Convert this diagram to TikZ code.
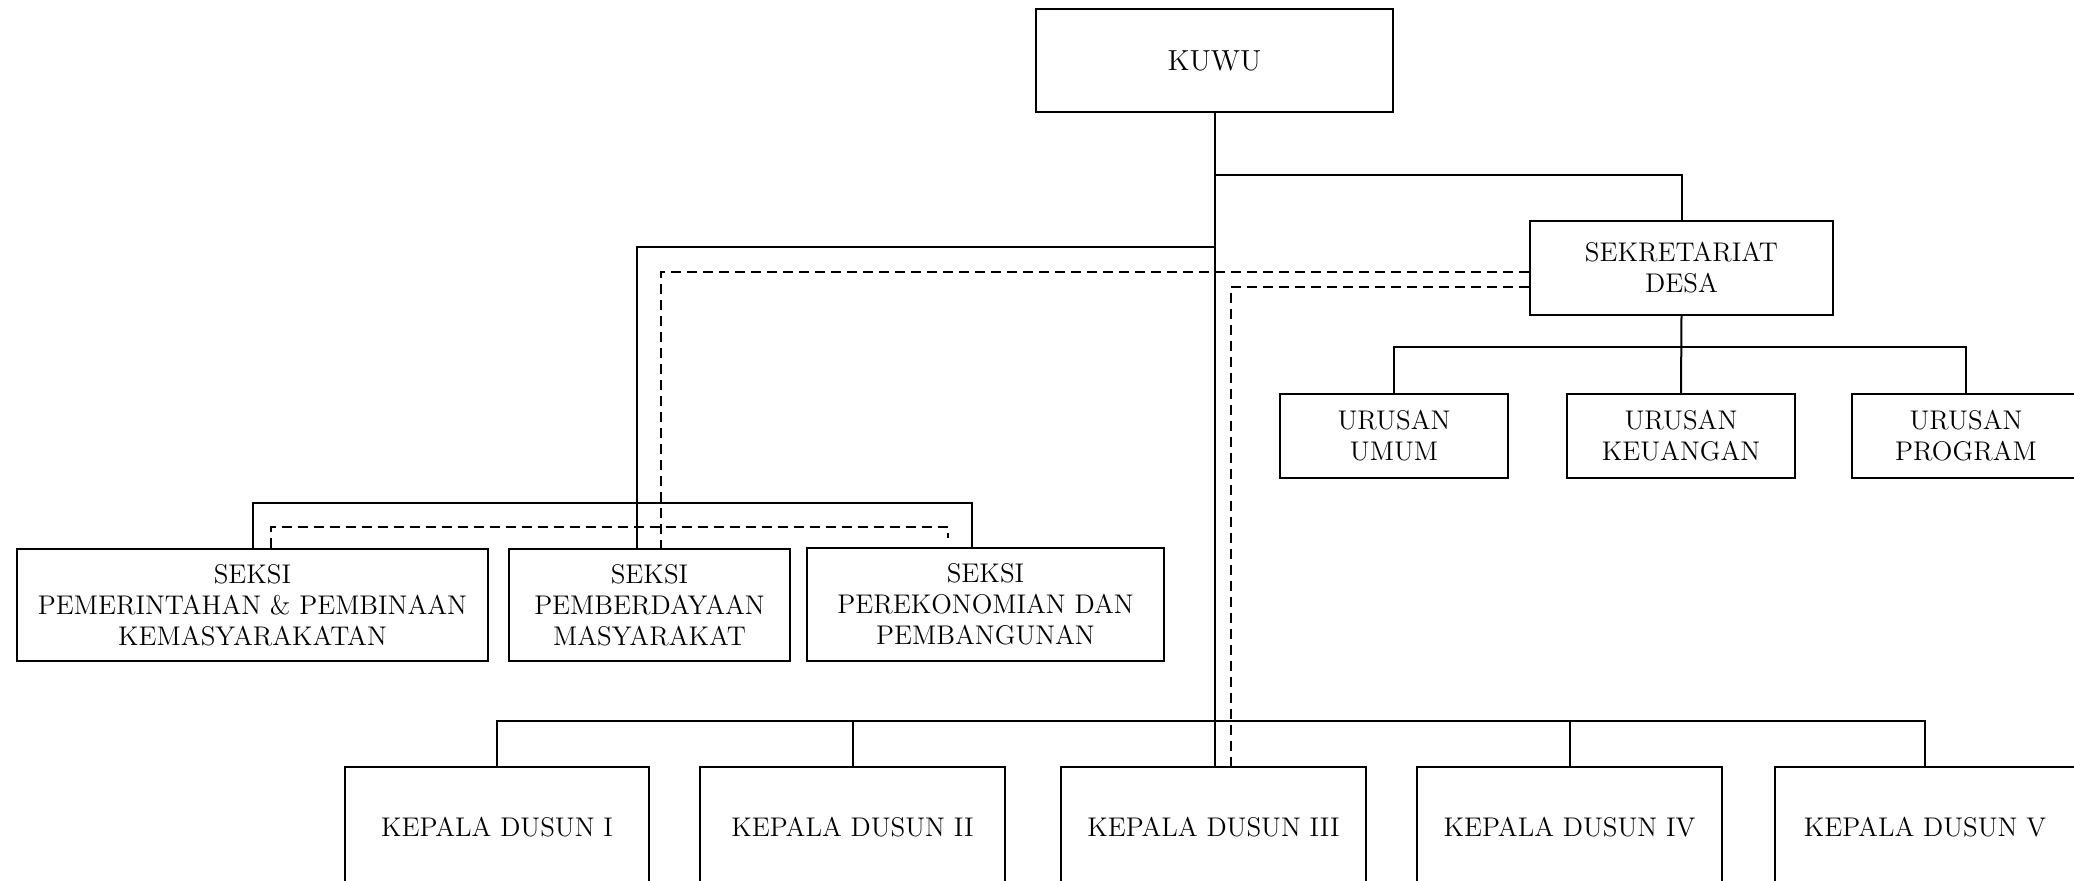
\documentclass[tikz,border=0pt]{standalone}
\usepackage{fontspec}
\begin{document}
\begin{tikzpicture}[x=0.5pt,y=-0.5pt,
  box/.style={draw, line width=1pt, align=center, inner sep=0pt,
    font=\fontsize{13.5}{15.5}\selectfont},
  conn/.style={line width=1pt},
  dashline/.style={line width=1.3pt, dash pattern=on 5pt off 3pt}]
\useasboundingbox (0,0) rectangle (2074,880);
\clip (0,0) rectangle (2074,880);
% nodes
\node[box, minimum width=178.5pt, minimum height=51.5pt, font=\fontsize{14.5}{17}\selectfont] (kuwu) at (1214.5,60.5) {KUWU};
\node[box, minimum width=151.5pt, minimum height=47pt] (sek) at (1681.5,268) {SEKRETARIAT\\DESA};
\node[box, minimum width=114pt, minimum height=42pt] (umum) at (1394,436) {URUSAN\\UMUM};
\node[box, minimum width=114pt, minimum height=42pt] (keu) at (1681,436) {URUSAN\\KEUANGAN};
\node[box, minimum width=114pt, minimum height=42pt] (prog) at (1966,436) {URUSAN\\PROGRAM};
\node[box, minimum width=235.5pt, minimum height=56pt] (s1) at (252.5,605) {SEKSI\\PEMERINTAHAN \& PEMBINAAN\\KEMASYARAKATAN};
\node[box, minimum width=140.5pt, minimum height=56pt] (s2) at (649.5,605) {SEKSI\\PEMBERDAYAAN\\MASYARAKAT};
\node[box, minimum width=178.5pt, minimum height=56.5pt] (s3) at (985.5,604.5) {SEKSI\\PEREKONOMIAN DAN\\PEMBANGUNAN};
\node[box, minimum width=152pt, minimum height=60pt] (d1) at (497,827) {KEPALA DUSUN I};
\node[box, minimum width=152.5pt, minimum height=60pt] (d2) at (852.5,827) {KEPALA DUSUN II};
\node[box, minimum width=152.5pt, minimum height=60pt] (d3) at (1213.5,827) {KEPALA DUSUN III};
\node[box, minimum width=152.5pt, minimum height=60pt] (d4) at (1569.5,827) {KEPALA DUSUN IV};
\node[box, minimum width=150pt, minimum height=60pt] (d5) at (1925,827) {KEPALA DUSUN V};
% coordinates
\coordinate (j1) at (1214.5,175);
\coordinate (b1) at (637,247);
\coordinate (sb) at (0,503);
\coordinate (sbr) at (972,503);
\coordinate (ur) at (0,347);
\coordinate (hy) at (0,721);
\coordinate (da) at (661,272);
\coordinate (db) at (1231,287);
\coordinate (dc) at (271,527);
\coordinate (dd) at (948,527);
% solid connectors
\draw[conn] (kuwu.south) -- (kuwu.south |- d3.north);
\draw[conn] (j1) -| (sek.north);
\draw[conn] (kuwu.south |- b1) -- (b1) -- (b1 |- s2.north);
\draw[conn] (s1.north) -- (s1.north |- sb) -- (sbr) -- (sbr |- s3.north);
\draw[conn] (sek.south) -- (keu.north);
\draw[conn] (umum.north) -- (umum.north |- ur) -- (prog.north |- ur) -- (prog.north);
\draw[conn] (d1.north) -- (d1.north |- hy) -- (d5.north |- hy) -- (d5.north);
\draw[conn] (d2.north) -- (d2.north |- hy);
\draw[conn] (d4.north) -- (d4.north |- hy);
% dashed connectors
\draw[dashline] (sek.west |- da) -- (da) -- (da |- s2.north);
\draw[dashline] (sek.west |- db) -- (db) -- (db |- d3.north);
\draw[dashline] (dc |- s1.north) -- (dc) -- (dd) -- ++(0,11);
\end{tikzpicture}
\end{document}
